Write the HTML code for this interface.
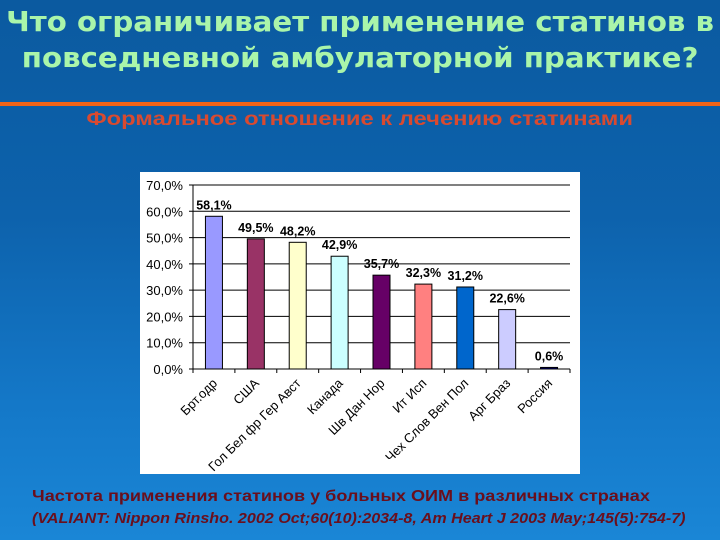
<!DOCTYPE html>
<html><head><meta charset="utf-8"><style>
body{margin:0;width:720px;height:540px;overflow:hidden;font-family:"Liberation Sans",sans-serif;}
#bg{position:absolute;left:0;top:0;width:720px;height:540px;background:linear-gradient(180deg,#0b5aa0 0%,#0d62ac 40%,#1478c8 75%,#1a86d6 100%);}
.t{position:absolute;left:0;width:720px;text-align:center;}
.s{display:inline-block;transform-origin:left top;white-space:nowrap;}
</style></head><body>
<div id="bg"></div>
<div class="t" style="top:4px;color:#aaf5aa;font-weight:bold;font-size:28px;line-height:36px;font-family:'DejaVu Sans Condensed','DejaVu Sans',sans-serif;"><span style="display:inline-block;transform:scaleX(1.16)">Что ограничивает применение статинов в<br>повседневной амбулаторной практике?</span></div>
<div style="position:absolute;left:0;top:102px;width:720px;height:4px;background:#f06418;"></div>
<div class="t" style="top:109px;color:#d84a30;font-weight:bold;font-size:19px;"><span style="display:inline-block;transform:scaleX(1.25)">Формальное отношение к лечению статинами</span></div>
<svg id="chart" style="position:absolute;left:140px;top:172px" width="440" height="302"></svg>
<div style="position:absolute;left:32px;top:488px;color:#6a0f1c;font-weight:bold;font-size:16px;"><span class="s" style="transform:scaleX(1.13)">Частота применения статинов у больных ОИМ в различных странах</span></div>
<div style="position:absolute;left:32px;top:511px;color:#6a0f1c;font-weight:bold;font-style:italic;font-size:14.5px;"><span class="s" style="transform:scaleX(1.11)">(VALIANT: Nippon Rinsho. 2002 Oct;60(10):2034-8, Am Heart J 2003 May;145(5):754-7)</span></div>
<script>
const categories=["Брт.одр","США","Гол Бел фр Гер Авст","Канада","Шв Дан Нор","Ит Исп","Чех Слов Вен Пол","Арг Браз","Россия"];
const values=[58.1,49.5,48.2,42.9,35.7,32.3,31.2,22.6,0.6];
const valueLabels=["58,1%","49,5%","48,2%","42,9%","35,7%","32,3%","31,2%","22,6%","0,6%"];
const colors=["#9999ff","#993366","#ffffcc","#ccffff","#660066","#ff8080","#0066cc","#ccccff","#000080"];
const yTicks=[0,10,20,30,40,50,60,70];
const yTickLabels=["0,0%","10,0%","20,0%","30,0%","40,0%","50,0%","60,0%","70,0%"];
const NS="http://www.w3.org/2000/svg";
const svg=document.getElementById('chart');
const x0=53,x1=430,yTop=13,yBot=197,ymax=70;
const y=v=>yBot-(v/ymax)*(yBot-yTop);
const bw=(x1-x0)/categories.length;
const xc=i=>x0+bw*(i+0.5);
function mk(t,a){const e=document.createElementNS(NS,t);for(const k in a)e.setAttribute(k,a[k]);svg.appendChild(e);return e;}
const bg=mk('rect',{x:0,y:0,width:440,height:302,fill:'#fff'});


yTicks.forEach((v,i)=>{
 const g=mk('line',{x1:x0-4,x2:x1,y1:y(v),y2:y(v),stroke:'#000','stroke-width':1});
 
 
 const t=mk('text',{x:x0-10,y:y(v)+5,'text-anchor':'end','font-size':13,fill:'#000'});
 t.textContent=yTickLabels[i];
 
 
});
const ax=mk('line',{x1:x0,x2:x0,y1:yTop,y2:yBot,stroke:'#000'});


for(let i=0;i<=categories.length;i++){const tk=mk('line',{x1:x0+bw*i,x2:x0+bw*i,y1:yBot,y2:yBot+4,stroke:'#000'});
 
 }
values.forEach((v,i)=>{
 const r=mk('rect',{x:xc(i)-8.5,y:y(v),width:17,height:yBot-y(v),fill:colors[i],stroke:'#000','stroke-width':1});
 
 
 const t=mk('text',{x:xc(i),y:y(v)-7,'text-anchor':'middle','font-size':12.5,'font-weight':'bold',fill:'#000'});
 t.textContent=valueLabels[i];
 
 
 const c=mk('text',{x:xc(i)+4,y:yBot+15,'text-anchor':'end','font-size':13,fill:'#000',transform:`rotate(-45 ${xc(i)+4} ${yBot+15})`});
 c.textContent=categories[i];
 
 
});
</script>
</body></html>
